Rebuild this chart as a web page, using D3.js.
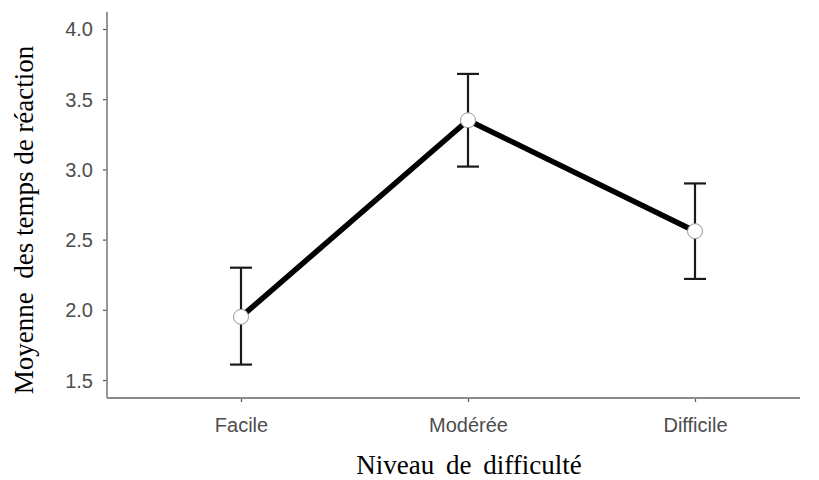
<!DOCTYPE html>
<html>
<head>
<meta charset="utf-8">
<script src="https://cdn.jsdelivr.net/npm/d3@7"></script>
<style>
    body { margin: 0; background: #fff; }
</style>
</head>
<body>
<svg width="819" height="480"></svg>
<script>
const levels = ["Facile", "Modérée", "Difficile"]
const means = [1.95, 3.35, 2.56]
const lower = [1.61, 3.02, 2.22]
const upper = [2.30, 3.68, 2.90]
const yTicks = [1.5, 2.0, 2.5, 3.0, 3.5, 4.0]

const svg = d3.select("svg")
const plotLeft = 107, plotRight = 800, plotTop = 12, plotBottom = 398

const x = d3.scalePoint().domain(levels).range([241, 695])
const y = d3.scaleLinear().domain([1.372, 4.121]).range([plotBottom, plotTop])

const data = levels.map((d, i) => ({ level: d, mean: means[i], lo: lower[i], hi: upper[i] }))

// axes
const yAxis = svg.append("g")
    .attr("transform", `translate(${plotLeft},0)`)
    .call(d3.axisLeft(y).tickValues(yTicks).tickFormat(d3.format(".1f")).tickSize(4).tickSizeOuter(0))
yAxis.select(".domain").remove()
yAxis.append("line").attr("class", "axisline")
    .attr("x1", 0).attr("x2", 0).attr("y1", plotTop).attr("y2", plotBottom)

const xAxis = svg.append("g")
    .attr("transform", `translate(0,${plotBottom})`)
    .call(d3.axisBottom(x).tickSize(4).tickSizeOuter(0))
xAxis.select(".domain").remove()
xAxis.append("line").attr("class", "axisline")
    .attr("x1", plotLeft).attr("x2", plotRight).attr("y1", 0).attr("y2", 0)

svg.selectAll(".axisline").attr("stroke", "#8c8c8c").attr("stroke-width", 1.8)
svg.selectAll(".tick line").attr("stroke", "#555").attr("stroke-width", 1.2)
svg.selectAll(".tick text")
    .attr("font-family", "Liberation Sans, Arial, sans-serif")
    .attr("font-size", 20)
    .attr("fill", "#4d4d4d")
yAxis.selectAll(".tick text").attr("x", -14).attr("dy", "0.35em")
xAxis.selectAll(".tick text").attr("y", 20)

// titles
svg.append("text")
    .attr("transform", `translate(33,220) rotate(-90)`)
    .attr("text-anchor", "middle")
    .attr("font-family", "Liberation Serif, Times New Roman, serif")
    .attr("font-size", 27)
    .attr("fill", "#000")
    .style("white-space", "pre")
    .text("Moyenne  des temps de réaction")

svg.append("text")
    .attr("x", 469).attr("y", 474)
    .attr("text-anchor", "middle")
    .attr("font-family", "Liberation Serif, Times New Roman, serif")
    .attr("font-size", 27)
    .attr("word-spacing", 5)
    .attr("fill", "#000")
    .text("Niveau de difficulté")

// error bars
const eb = svg.append("g").attr("stroke", "#1a1a1a").attr("stroke-width", 2.2)
eb.selectAll("line.v").data(data).join("line").attr("class", "v")
    .attr("x1", d => x(d.level)).attr("x2", d => x(d.level))
    .attr("y1", d => y(d.lo)).attr("y2", d => y(d.hi))
eb.selectAll("line.t").data(data).join("line").attr("class", "t")
    .attr("x1", d => x(d.level) - 11).attr("x2", d => x(d.level) + 11)
    .attr("y1", d => y(d.hi)).attr("y2", d => y(d.hi))
eb.selectAll("line.b").data(data).join("line").attr("class", "b")
    .attr("x1", d => x(d.level) - 11).attr("x2", d => x(d.level) + 11)
    .attr("y1", d => y(d.lo)).attr("y2", d => y(d.lo))

// mean line
svg.append("path")
    .datum(data)
    .attr("fill", "none")
    .attr("stroke", "#000")
    .attr("stroke-width", 5.5)
    .attr("d", d3.line().x(d => x(d.level)).y(d => y(d.mean)))

svg.selectAll("circle").data(data).join("circle")
    .attr("cx", d => x(d.level)).attr("cy", d => y(d.mean))
    .attr("r", 7.5)
    .attr("fill", "#fff")
    .attr("stroke", "#999")
    .attr("stroke-width", 1)
</script>
</body>
</html>
